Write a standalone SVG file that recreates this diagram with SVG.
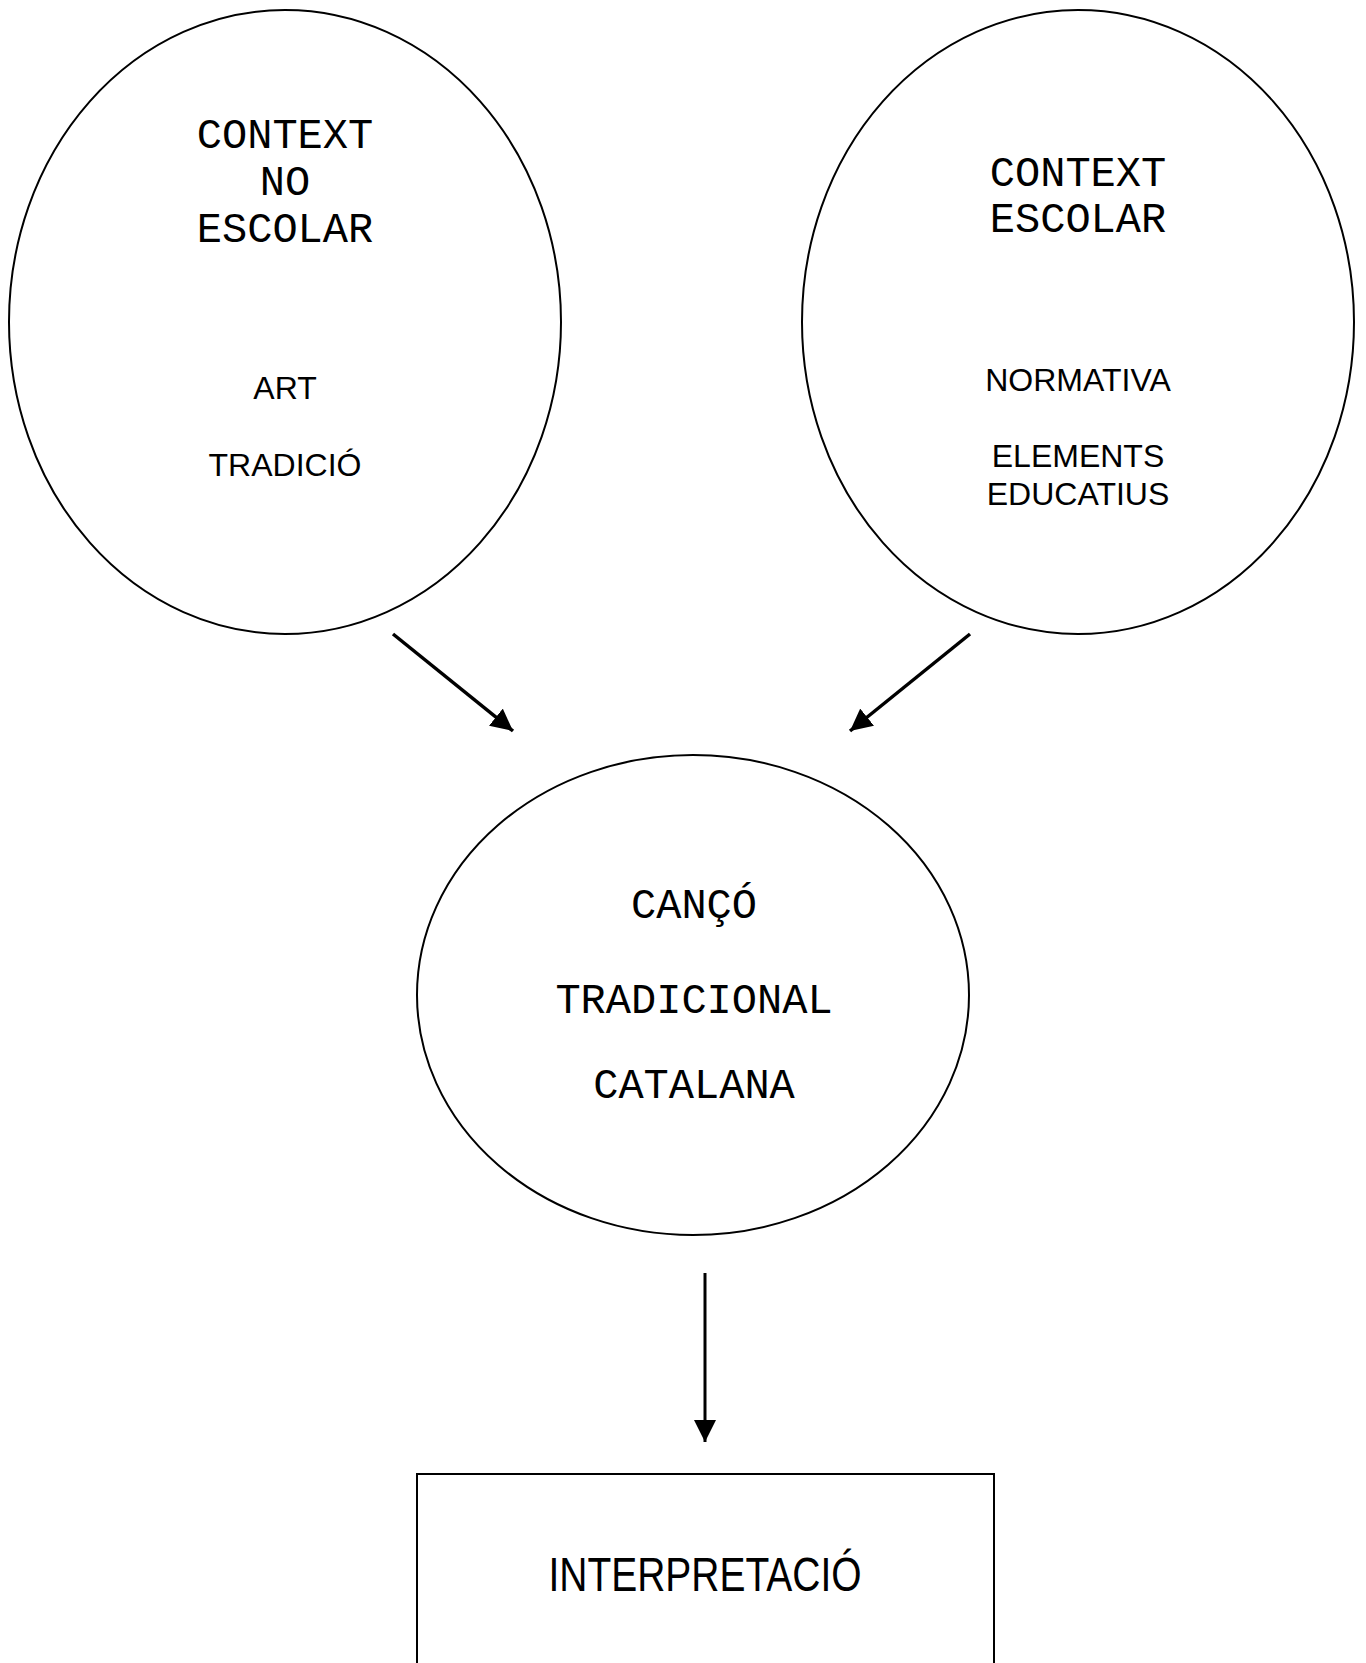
<svg xmlns="http://www.w3.org/2000/svg" width="1366" height="1663" viewBox="0 0 1366 1663">
<style>
.shape{fill:#fff;stroke:#000;stroke-width:2}
.mono{font-family:"Liberation Mono","Courier New",monospace;font-size:42px;fill:#000;text-anchor:middle}
.sans{font-family:"Liberation Sans",Arial,sans-serif;font-size:32px;fill:#000;text-anchor:middle}
.big{font-family:"Liberation Sans",Arial,sans-serif;font-size:49px;fill:#000;text-anchor:middle}
.conn{stroke:#000;fill:none}
</style>
<defs>
<marker id="ah" viewBox="0 0 10 10" refX="10" refY="5" markerUnits="userSpaceOnUse" markerWidth="22" markerHeight="22" orient="auto">
<path d="M0,0 L10,5 L0,10 Z" fill="#000"/>
</marker>
</defs>
<g id="node-no-escolar">
<ellipse class="shape" cx="285" cy="322" rx="276" ry="312"/>
<text class="mono" x="285" y="148">CONTEXT</text>
<text class="mono" x="285" y="195">NO</text>
<text class="mono" x="285" y="242">ESCOLAR</text>
<text class="sans" x="285" y="399">ART</text>
<text class="sans" x="285" y="476">TRADICIÓ</text>
</g>
<g id="node-escolar">
<ellipse class="shape" cx="1078" cy="322" rx="276" ry="312"/>
<text class="mono" x="1078" y="186">CONTEXT</text>
<text class="mono" x="1078" y="232">ESCOLAR</text>
<text class="sans" x="1078" y="391">NORMATIVA</text>
<text class="sans" x="1078" y="467">ELEMENTS</text>
<text class="sans" x="1078" y="505">EDUCATIUS</text>
</g>
<g id="node-canco">
<ellipse class="shape" cx="693" cy="995" rx="276" ry="240"/>
<text class="mono" x="694" y="918">CANÇÓ</text>
<text class="mono" x="694" y="1013">TRADICIONAL</text>
<text class="mono" x="694" y="1098">CATALANA</text>
</g>
<g id="node-interpretacio">
<rect class="shape" x="417" y="1474" width="577" height="200"/>
<text class="big" x="705" y="1591" textLength="313" lengthAdjust="spacingAndGlyphs">INTERPRETACIÓ</text>
</g>
<g id="connectors">
<line class="conn" stroke-width="3.5" x1="393" y1="634" x2="513" y2="731" marker-end="url(#ah)"/>
<line class="conn" stroke-width="3.5" x1="970" y1="634" x2="850" y2="731" marker-end="url(#ah)"/>
<line class="conn" stroke-width="3" x1="705" y1="1273" x2="705" y2="1442" marker-end="url(#ah)"/>
</g>
</svg>
